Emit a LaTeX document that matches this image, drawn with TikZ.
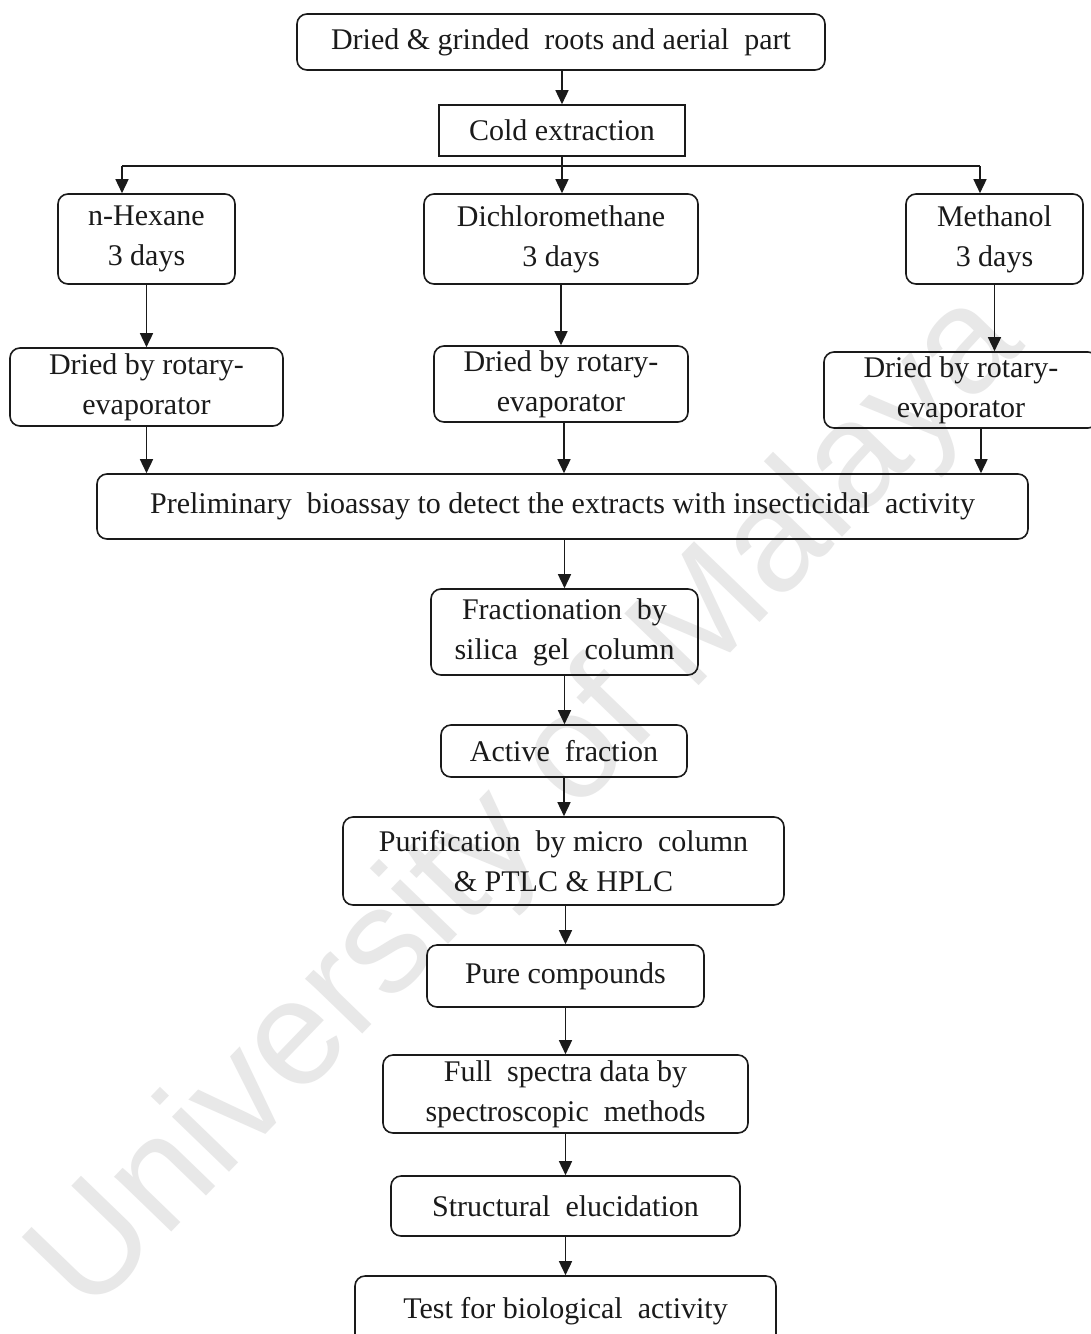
\documentclass[tikz,border=0pt]{standalone}
\usepackage{fontspec}
\setmainfont{Liberation Serif}
\newfontfamily\wmfont{Liberation Sans}
\usetikzlibrary{arrows.meta,calc}
\definecolor{ink}{HTML}{1A1A1A}
\begin{document}
\begin{tikzpicture}[x=1pt,y=-1pt,
  box/.style={draw=ink,line width=1.6pt,rounded corners=10pt,inner sep=0pt,
    align=center,font=\fontsize{30}{40}\selectfont,text=ink},
  sbox/.style={box,rounded corners=0pt},
  arr/.style={draw=ink,line width=1.5pt,-{Triangle[length=14pt,width=13pt]}},
  ln/.style={draw=ink,line width=1.5pt}]
\useasboundingbox (0,0) rectangle (1091,1334);
\clip (0,0) rectangle (1091,1334);
\fill[white] (0,0) rectangle (1091,1334);
% watermark
\node[text=black!9,font=\wmfont\fontsize{150}{150}\selectfont,rotate=46,inner sep=0pt] (wm) at (530,805) {University of Malaya};
% boxes
\node[box,minimum width=528pt,minimum height=56pt] (top) at (561,42) {Dried \& grinded~ roots and aerial~ part};
\node[sbox,minimum width=246pt,minimum height=51pt] (cold) at (562,130.5) {Cold extraction};
\node[box,minimum width=177pt,minimum height=90pt] (hex) at (146.5,239) {n-Hexane\\3 days};
\node[box,minimum width=274pt,minimum height=90pt] (dcm) at (561,239) {Dichloromethane\\3 days};
\node[box,minimum width=177pt,minimum height=90pt] (meth) at (994.5,239) {Methanol\\3 days};
\node[box,minimum width=273pt,minimum height=78pt] (dry1) at (146.5,387) {Dried by rotary-\\evaporator};
\node[box,minimum width=254pt,minimum height=76pt] (dry2) at (561,384) {Dried by rotary-\\evaporator};
\node[box,minimum width=274pt,minimum height=76pt] (dry3) at (961,390) {Dried by rotary-\\evaporator};
\node[box,minimum width=931pt,minimum height=65pt] (pre) at (562.5,506.5) {Preliminary~ bioassay to detect the extracts with insecticidal~ activity};
\node[box,minimum width=267pt,minimum height=86pt] (frac) at (564.5,632) {Fractionation~ by\\silica~ gel~ column};
\node[box,minimum width=246pt,minimum height=52pt] (act) at (564,751) {Active~ fraction};
\node[box,minimum width=441pt,minimum height=88pt] (pur) at (563.5,861) {Purification~ by micro~ column\\\& PTLC \& HPLC};
\node[box,minimum width=277pt,minimum height=62pt] (pure) at (565.5,976) {Pure compounds};
\node[box,minimum width=365pt,minimum height=78pt] (full) at (565.5,1094) {Full~ spectra data by\\spectroscopic~ methods};
\node[box,minimum width=349pt,minimum height=60pt] (str) at (565.5,1206) {Structural~ elucidation};
\node[box,minimum width=421pt,minimum height=70pt] (test) at (565.5,1311) {Test for biological~ activity};
% connectors
\coordinate (hl) at (122,166);
\coordinate (hr) at (980,166);
\draw[arr] (top.south -| cold.south) -- (cold.north);
\draw[arr] (cold.south) -- (cold.south |- dcm.north);
\draw[ln] (hl) -- (hr);
\draw[arr] (hl) -- (hl |- hex.north);
\draw[arr] (hr) -- (hr |- meth.north);
\draw[arr] (hex.south) -- (hex.south |- dry1.north);
\draw[arr] (dcm.south) -- (dcm.south |- dry2.north);
\draw[arr] (meth.south) -- (meth.south |- dry3.north);
\draw[arr] (dry1.south) -- (dry1.south |- pre.north);
\draw[arr] ([xshift=3pt]dry2.south) -- ([xshift=3pt]dry2.south |- pre.north);
\draw[arr] ([xshift=20pt]dry3.south) -- ([xshift=20pt]dry3.south |- pre.north);
\draw[arr] (pre.south -| frac.north) -- (frac.north);
\draw[arr] (frac.south) -- (frac.south |- act.north);
\draw[arr] (act.south) -- (act.south |- pur.north);
\draw[arr] (pur.south -| pure.north) -- (pure.north);
\draw[arr] (pure.south) -- (pure.south |- full.north);
\draw[arr] (full.south) -- (full.south |- str.north);
\draw[arr] (str.south) -- (str.south |- test.north);
\end{tikzpicture}
\end{document}
